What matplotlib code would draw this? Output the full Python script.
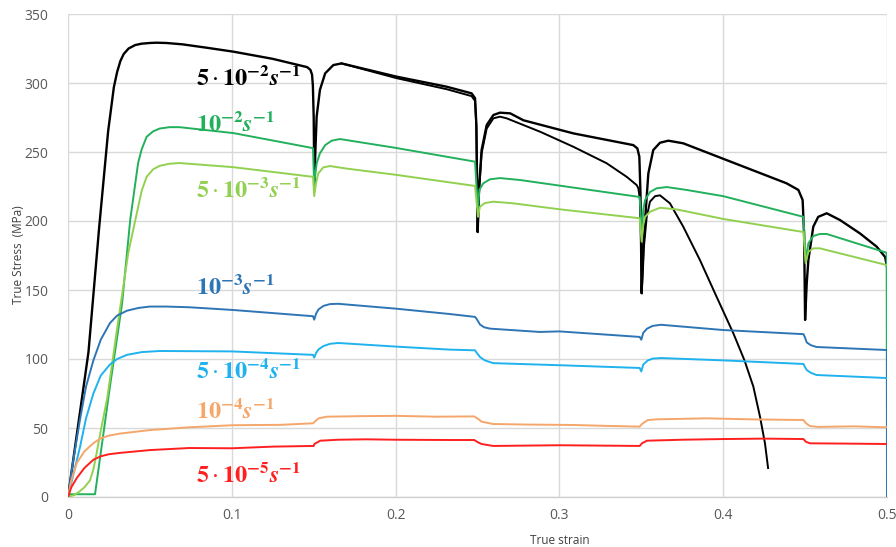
import matplotlib
matplotlib.use("Agg")
import matplotlib.pyplot as plt

plt.rcParams['font.family'] = ['Open Sans', 'DejaVu Sans']
plt.rcParams['mathtext.fontset'] = 'stix'

# ---------------- data (true strain, true stress MPa) ----------------
# 5e-2 s^-1, specimen A
blkA_x = [0, 0.0125, 0.019, 0.0245, 0.028, 0.030, 0.032, 0.034, 0.037, 0.041, 0.045, 0.05,
          0.054, 0.06, 0.07, 0.085, 0.101, 0.125, 0.146, 0.148, 0.149, 0.1495, 0.1500,
          0.1504, 0.1510, 0.1518, 0.1538, 0.157, 0.162, 0.167, 0.2006, 0.2312, 0.2464,
          0.2485, 0.2493, 0.2501, 0.2510, 0.2525, 0.2556, 0.2597, 0.2637, 0.27, 0.278,
          0.3085, 0.3451, 0.3476, 0.3488, 0.3495, 0.3502, 0.3512, 0.3523, 0.3543, 0.3573,
          0.3614, 0.3665, 0.3756, 0.4387, 0.4459, 0.4485, 0.4494, 0.4500, 0.4510, 0.452,
          0.455, 0.458, 0.4632, 0.4713, 0.4835, 0.4937, 0.4988, 0.5]
blkA_y = [0, 105, 195, 265, 297, 308, 316, 321, 325, 327.5, 328.5, 329,
          329.2, 329, 328, 325.5, 322.7, 317.5, 311.5, 309.5, 306, 298, 275,
          224, 250, 275.6, 295, 307, 313, 314.2, 304.6, 297.3, 292.5,
          289, 270, 192, 225, 251.4, 269.5, 276.8, 278.5, 278, 273,
          263.5, 255, 252.6, 246.6, 220, 147.6, 180, 200.7, 234.5, 251.4,
          256.7, 258.2, 256.3, 227.3, 222.5, 215.2, 190, 128.3, 155, 171.7,
          195.9, 203, 205.6, 200.7, 191, 181.4, 174, 166.9]
# 5e-2 s^-1, specimen B (diverges from A after ~0.2)
blkB_x = [0.167, 0.2006, 0.2312, 0.2464, 0.2485, 0.2493, 0.2501, 0.2510, 0.2525, 0.2556,
          0.2597, 0.2637, 0.2678, 0.2882, 0.3085, 0.3289, 0.3411, 0.3472, 0.3482, 0.3492,
          0.3497, 0.3502, 0.3510, 0.3516, 0.3533, 0.3553, 0.3584, 0.3614, 0.3675, 0.3756,
          0.3858, 0.396, 0.4062, 0.413, 0.4184, 0.4225, 0.4255, 0.4274]
blkB_y = [314.2, 303.5, 295.5, 290.5, 287, 268, 192, 222, 249, 267,
          274.4, 275.6, 274.4, 264.7, 253.8, 241.8, 232, 226, 223.7, 215,
          195, 148, 165, 181.4, 203, 214, 218, 218.6, 212.8, 195.9,
          171.7, 145, 118.6, 99, 80, 58, 38.9, 21]
# 1e-2 s^-1
grn_x = [0, 0.0165, 0.0256, 0.033, 0.038, 0.0428, 0.045, 0.048, 0.052, 0.056, 0.062, 0.068,
         0.101, 0.1496, 0.1503, 0.1508, 0.1518, 0.1538, 0.157, 0.161, 0.166, 0.2, 0.2485,
         0.2503, 0.2511, 0.2535, 0.2576, 0.2637, 0.276, 0.349, 0.3502, 0.3512, 0.3523,
         0.3553, 0.3594, 0.3655, 0.3777, 0.4, 0.449, 0.4503, 0.452, 0.455, 0.459, 0.4632,
         0.4998, 0.5]
grn_y = [2, 2, 80, 140, 201, 242, 252, 261, 265, 267, 268, 268,
         263.7, 252.8, 225, 232, 241.8, 249, 255, 258.2, 259.4, 253, 243,
         208, 222.5, 227.3, 230.2, 231.1, 229.7, 217.4, 192, 208, 215.2,
         221, 223.7, 224.6, 222.5, 218, 203, 171.7, 183.8, 189.1, 190.6, 190.6,
         177, 0]
# 5e-3 s^-1
lgr_x = [0, 0.004, 0.007, 0.010, 0.0134, 0.0155, 0.0175, 0.020, 0.024, 0.0307, 0.0368,
         0.0428, 0.045, 0.048, 0.052, 0.056, 0.062, 0.068, 0.101, 0.1496, 0.1503, 0.1514,
         0.1528, 0.1559, 0.16, 0.17, 0.2, 0.2485, 0.2503, 0.2515, 0.2545, 0.2595, 0.2719,
         0.3, 0.349, 0.3502, 0.3512, 0.3523, 0.3553, 0.3614, 0.3716, 0.4, 0.449, 0.4503,
         0.452, 0.455, 0.459, 0.5]
lgr_y = [0, 1.5, 4, 7, 12, 20, 32, 48, 72, 128, 177,
         210, 222, 232, 237.5, 240, 241.5, 242, 239, 232, 218, 227.3,
         234.5, 238.9, 239.8, 238, 233.5, 225.4, 203, 210.4, 213, 214, 212.8,
         208.5, 202, 185, 197, 203, 206.7, 209.6, 208.4, 201.5, 192, 169.6,
         177.7, 180.2, 180.2, 168]
# 1e-3 s^-1
blu_x = [0, 0.003, 0.0073, 0.011, 0.0155, 0.02, 0.0256, 0.03, 0.036, 0.043, 0.05, 0.06,
         0.074, 0.101, 0.1496, 0.1503, 0.1515, 0.153, 0.156, 0.16, 0.165, 0.2, 0.233,
         0.2485, 0.2495, 0.2515, 0.254, 0.2577, 0.288, 0.3, 0.349, 0.3500, 0.3512, 0.3535,
         0.357, 0.362, 0.4, 0.449, 0.4498, 0.451, 0.4535, 0.457, 0.5, 0.5]
blu_y = [0, 25, 56, 80, 99, 114, 126, 131.5, 135, 137, 138, 138,
         137.5, 135.5, 131, 128.5, 133, 136, 138.5, 139.8, 140, 136.5, 132.6,
         130.5, 129, 125, 123, 122, 119.6, 120, 116, 114, 119, 122,
         124, 124.8, 121, 118, 116, 112, 110, 108.7, 106.5, 0]
# 5e-4 s^-1
lbl_x = [0, 0.003, 0.0073, 0.011, 0.0155, 0.02, 0.0256, 0.03, 0.036, 0.045, 0.056, 0.1,
         0.1496, 0.1503, 0.1515, 0.153, 0.156, 0.16, 0.165, 0.2, 0.233, 0.2485, 0.2495,
         0.2515, 0.2545, 0.2595, 0.3, 0.349, 0.3500, 0.3512, 0.354, 0.357, 0.362, 0.4,
         0.449, 0.4498, 0.451, 0.4535, 0.457, 0.5]
lbl_y = [0, 15, 36, 57, 75, 88, 96, 100, 103, 105, 105.8, 105.5,
         103, 101, 104.5, 107, 109.4, 111, 111.6, 109, 106.8, 106.3, 104.5,
         101.5, 99, 97, 95.5, 93.5, 91, 96, 99, 100.3, 100.7, 99,
         96.4, 94.5, 92, 90, 88.4, 86.2]
# 1e-4 s^-1
org_x = [0, 0.002, 0.0055, 0.01, 0.0155, 0.02, 0.025, 0.032, 0.05, 0.074, 0.1, 0.13,
         0.1496, 0.1505, 0.153, 0.158, 0.18, 0.2, 0.225, 0.248, 0.2505, 0.2525, 0.2595,
         0.28, 0.308, 0.33, 0.349, 0.3505, 0.354, 0.36, 0.39, 0.42, 0.449, 0.4505, 0.453,
         0.458, 0.48, 0.5]
org_y = [0, 12, 25, 33, 39, 42.5, 44.5, 46, 48.5, 50.5, 52, 52.3,
         53.4, 54.5, 57, 58.2, 58.6, 58.8, 58.2, 58.4, 56.5, 54.6, 52.9,
         52.5, 52.2, 51.5, 51, 53, 55.8, 56.3, 57, 56.2, 55.8, 53.5, 51.4,
         50.8, 51.2, 50.5]
# 5e-5 s^-1
red_x = [0, 0.002, 0.0055, 0.01, 0.0155, 0.02, 0.025, 0.032, 0.05, 0.074, 0.1, 0.125,
         0.15, 0.1505, 0.154, 0.165, 0.182, 0.2, 0.233, 0.248, 0.2505, 0.2525, 0.2595,
         0.3, 0.349, 0.3505, 0.3535, 0.375, 0.40, 0.425, 0.449, 0.4505, 0.453, 0.475, 0.5]
red_y = [0, 7, 14, 21, 27, 29.5, 31, 32, 34, 35.5, 35.3, 36.5,
         37, 38.5, 40.8, 41.5, 41.8, 41.5, 41.3, 41.3, 39.5, 38.4, 37,
         37.5, 37, 39, 40.8, 41.5, 42, 42.3, 42, 40, 38.9, 38.7, 38.4]

labels = [r'$\mathbf{5}\cdot\mathbf{10^{-2}}\mathbfit{s}^{\mathbf{-1}}$',
          r'$\mathbf{10^{-2}}\mathbfit{s}^{\mathbf{-1}}$',
          r'$\mathbf{5}\cdot\mathbf{10^{-3}}\mathbfit{s}^{\mathbf{-1}}$',
          r'$\mathbf{10^{-3}}\mathbfit{s}^{\mathbf{-1}}$',
          r'$\mathbf{5}\cdot\mathbf{10^{-4}}\mathbfit{s}^{\mathbf{-1}}$',
          r'$\mathbf{10^{-4}}\mathbfit{s}^{\mathbf{-1}}$',
          r'$\mathbf{5}\cdot\mathbf{10^{-5}}\mathbfit{s}^{\mathbf{-1}}$']
label_y = [298.5, 265.5, 217.6, 147, 86, 57, 11.1]
colors = ['#000000', '#22b05c', '#92d050', '#2e75b6', '#1fb2ee', '#f5a66a', '#ff1f1f']

x_ticks = [0, 0.1, 0.2, 0.3, 0.4, 0.5]
x_ticklabels = ['0', '0.1', '0.2', '0.3', '0.4', '0.5']
y_ticks = [0, 50, 100, 150, 200, 250, 300, 350]

# ---------------- figure ----------------
fig = plt.figure(figsize=(8.96, 5.47), dpi=100)
ax = fig.add_axes([68/896, 50/547, (887-68)/896, (497-14)/547])

ax.plot(blkA_x, blkA_y, color=colors[0], lw=1.7, zorder=3, solid_joinstyle='round')
ax.plot(blkB_x, blkB_y, color=colors[0], lw=1.4, zorder=3, solid_joinstyle='round')
ax.plot(grn_x, grn_y, color=colors[1], lw=1.4, zorder=4, solid_joinstyle='round')
ax.plot(lgr_x, lgr_y, color=colors[2], lw=1.4, zorder=4, solid_joinstyle='round')
ax.plot(blu_x, blu_y, color=colors[3], lw=1.4, zorder=5, solid_joinstyle='round')
ax.plot(lbl_x, lbl_y, color=colors[4], lw=1.4, zorder=5, solid_joinstyle='round')
ax.plot(org_x, org_y, color=colors[5], lw=1.4, zorder=5, solid_joinstyle='round')
ax.plot(red_x, red_y, color=colors[6], lw=1.4, zorder=5, solid_joinstyle='round')

for lab, ly, c in zip(labels, label_y, colors):
    ax.text(0.0781, ly, lab, color=c, fontsize=17.5, ha='left', va='baseline', zorder=6)

ax.set_xlim(0, 0.5)
ax.set_ylim(0, 350)
ax.set_xticks(x_ticks)
ax.set_xticklabels(x_ticklabels)
ax.set_yticks(y_ticks)
ax.grid(True, color='#d9d9d9', lw=1.0)
ax.set_axisbelow(True)
for s in ['top', 'right', 'left']:
    ax.spines[s].set_visible(False)
ax.spines['bottom'].set_color('#d0d0d0')
ax.spines['bottom'].set_linewidth(1.0)
ax.tick_params(length=0, labelsize=10, labelcolor='#595959')
ax.tick_params(axis='y', pad=14)
ax.tick_params(axis='x', pad=8)

fig.text(560/896, 1 - 540/547, 'True strain', ha='center', va='center',
         fontsize=8.5, color='#404040')
fig.text(19/896, 1 - 255/547, 'True Stress  (MPa)', ha='center', va='center',
         rotation=90, fontsize=8.5, color='#404040')

fig.savefig('out.png', dpi=100, facecolor='white')
